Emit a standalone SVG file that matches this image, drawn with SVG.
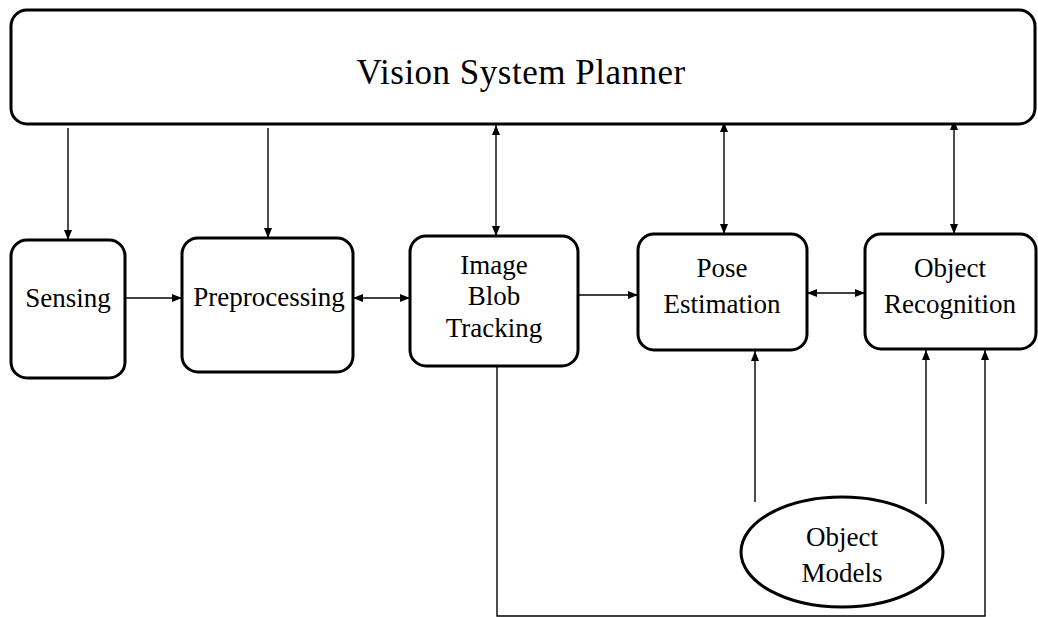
<svg xmlns="http://www.w3.org/2000/svg" width="1038" height="617" viewBox="0 0 1038 617">
<style>
.box{fill:#fff;stroke:#000;stroke-width:3}
.lbl{font-family:"Liberation Serif","Times New Roman",serif;font-size:27px;fill:#000;text-anchor:middle}
.big{font-family:"Liberation Serif","Times New Roman",serif;font-size:35px;fill:#000;text-anchor:middle;letter-spacing:0.5px}
.c{fill:none;stroke:#000;stroke-width:1.4}
</style>
<defs>
<marker id="ah" viewBox="0 0 10 8" refX="10" refY="4" markerWidth="10" markerHeight="8" markerUnits="userSpaceOnUse" orient="auto-start-reverse">
<path d="M0,0 L10,4 L0,8 Z" fill="#000"/>
</marker>
</defs>
<rect width="1038" height="617" fill="#fff"/>
<g id="connectors">
<path class="c" d="M68,128 V240" marker-end="url(#ah)"/>
<path class="c" d="M268,128 V238" marker-end="url(#ah)"/>
<path class="c" d="M496,125 V236" marker-start="url(#ah)" marker-end="url(#ah)"/>
<path class="c" d="M724,122 V234" marker-start="url(#ah)" marker-end="url(#ah)"/>
<path class="c" d="M954,120 V234" marker-start="url(#ah)" marker-end="url(#ah)"/>
<path class="c" d="M125,298 H182" marker-end="url(#ah)"/>
<path class="c" d="M353,298 H410" marker-start="url(#ah)" marker-end="url(#ah)"/>
<path class="c" d="M578,295 H638" marker-end="url(#ah)"/>
<path class="c" d="M807,293 H865" marker-start="url(#ah)" marker-end="url(#ah)"/>
<path class="c" d="M755,502 V351" marker-end="url(#ah)"/>
<path class="c" d="M926,504 V350" marker-end="url(#ah)"/>
<path class="c" d="M497,366 V616 H985 V350" marker-end="url(#ah)"/>
</g>
<g id="planner">
<rect class="box" x="11" y="10" width="1024" height="114" rx="16"/>
<text class="big" x="521" y="84">Vision System Planner</text>
</g>
<g id="sensing">
<rect class="box" x="11" y="240" width="114" height="138" rx="16"/>
<text class="lbl" x="68" y="307">Sensing</text>
</g>
<g id="preprocessing">
<rect class="box" x="182" y="238" width="171" height="134" rx="16"/>
<text class="lbl" x="269" y="306">Preprocessing</text>
</g>
<g id="blob">
<rect class="box" x="410" y="236" width="168" height="130" rx="16"/>
<text class="lbl" x="494" y="274">Image</text>
<text class="lbl" x="494" y="305">Blob</text>
<text class="lbl" x="494" y="337">Tracking</text>
</g>
<g id="pose">
<rect class="box" x="638" y="234" width="169" height="116" rx="16"/>
<text class="lbl" x="722" y="277">Pose</text>
<text class="lbl" x="722" y="313">Estimation</text>
</g>
<g id="recognition">
<rect class="box" x="865" y="234" width="171" height="115" rx="16"/>
<text class="lbl" x="950" y="277">Object</text>
<text class="lbl" x="950" y="313">Recognition</text>
</g>
<g id="models">
<ellipse class="box" cx="842" cy="552" rx="101" ry="55"/>
<text class="lbl" x="842" y="546">Object</text>
<text class="lbl" x="842" y="582">Models</text>
</g>
</svg>
